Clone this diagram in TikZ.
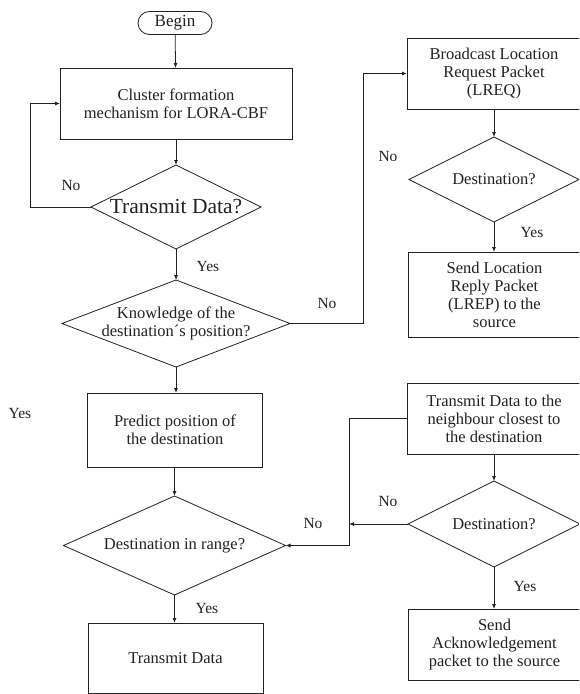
\documentclass[tikz,border=0pt]{standalone}
\usepackage{fontspec}
\setmainfont{Liberation Serif}
\usetikzlibrary{shapes.geometric,arrows.meta}
\definecolor{ink}{HTML}{222222}
\tikzset{
  box/.style={draw=ink, line width=0.8pt, rectangle, inner sep=0pt, outer sep=0pt, align=center, text=ink, font=\fontsize{16.5}{18}\selectfont},
  dia/.style={draw=ink, line width=0.8pt, diamond, inner sep=0pt, outer sep=0pt},
  dtext/.style={text=ink, align=center, font=\fontsize{16.5}{18}\selectfont},
  lbl/.style={text=ink, font=\fontsize{15.5}{17}\selectfont, inner sep=0pt},
  arr/.style={draw=ink, line width=0.8pt, -{Latex[length=5pt,width=4pt]}},
  ln/.style={draw=ink, line width=0.8pt}
}
\begin{document}
\begin{tikzpicture}[x=1pt,y=-1pt]
\useasboundingbox (0,0) rectangle (579,694);
\fill[white] (0,0) rectangle (579,694);
\clip (0,0) rectangle (579,694);

% left column
\node[box, rounded corners=11.5pt, minimum width=74pt, minimum height=23pt, font=\fontsize{17}{18}\selectfont] (begin) at (175,23) {Begin};
\node[box, minimum width=232pt, minimum height=71pt] (cluster) at (176,103.5) {Cluster formation\\mechanism for LORA-CBF};
\node[dia, minimum width=170pt, minimum height=84pt, label={[text=ink, font=\fontsize{21.5}{24}\selectfont, inner sep=0pt]center:Transmit Data?}] (td) at (176,207) {};
\node[dia, minimum width=228pt, minimum height=87pt, label={[dtext]center:Knowledge of the\\destination´s position?}] (know) at (176,323.5) {};
\node[box, minimum width=175pt, minimum height=74pt] (predict) at (175,430) {Predict position of\\the destination};
\node[dia, minimum width=222pt, minimum height=99pt, label={[dtext]center:Destination in range?}] (range) at (174.5,545.5) {};
\node[box, minimum width=175pt, minimum height=70pt] (tdata) at (175.5,658) {Transmit Data};

% right column
\node[box, minimum width=174pt, minimum height=71pt] (bcast) at (494,73.5) {Broadcast Location\\Request Packet\\(LREQ)};
\node[dia, minimum width=170pt, minimum height=85pt, label={[dtext]center:Destination?}] (dest1) at (494,179.5) {};
\node[box, minimum width=173pt, minimum height=85pt] (lrep) at (494.5,294.5) {Send Location\\Reply Packet\\(LREP) to the\\source};
\node[box, minimum width=174pt, minimum height=71pt] (nbr) at (494,418.5) {Transmit Data to the\\neighbour closest to\\the destination};
\node[dia, minimum width=172pt, minimum height=86pt, label={[dtext]center:Destination?}] (dest2) at (494,524) {};
\node[box, minimum width=173pt, minimum height=71pt] (ack) at (494.5,644.5) {Send\\Acknowledgement\\packet to the source};

% junction coordinates
\coordinate (jl) at (30,207);
\coordinate (jk) at (363,323.5);
\coordinate (jn) at (349,418.5);
\coordinate (jd) at (349,524);

% connectors
\draw[arr] (begin) -- (cluster);
\draw[arr] (cluster) -- (td);
\draw[ln] (td.west) -- (jl);
\draw[arr] (jl) |- (cluster.west);
\draw[arr] (td.south) -- (td.south |- know.north);
\draw[ln] (know.east) -- (jk);
\draw[arr] (jk) |- (bcast.west);
\draw[arr] (bcast.south) -- (bcast.south |- dest1.north);
\draw[arr] (dest1.south) -- (dest1.south |- lrep.north);
\draw[arr] (know.south) -- (know.south |- predict.north);
\draw[arr] (predict.south -| range.north) -- (range.north);
\draw[arr] (range.south) -- (range.south |- tdata.north);
\draw[ln] (nbr.west) -- (jn);
\draw[arr] (jn) |- (range.east);
\draw[arr] (dest2.west) -- (jd);
\draw[arr] (nbr.south) -- (nbr.south |- dest2.north);
\draw[arr] (dest2.south) -- (dest2.south |- ack.north);

% labels
\node[lbl] (l1) at (71,185) {No};
\node[lbl] (l2) at (208,266) {Yes};
\node[lbl] (l3) at (327,303) {No};
\node[lbl] (l4) at (388,156) {No};
\node[lbl] (l5) at (532,232) {Yes};
\node[lbl] (l6) at (20,413) {Yes};
\node[lbl] (l7) at (207,608) {Yes};
\node[lbl] (l8) at (313,523) {No};
\node[lbl] (l9) at (388,501) {No};
\node[lbl] (l10) at (525,586) {Yes};
\end{tikzpicture}
\end{document}
